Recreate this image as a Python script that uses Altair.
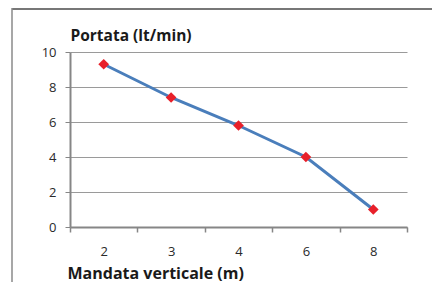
import altair as alt
import pandas as pd

categories = ["2", "3", "4", "6", "8"]
portata = [9.3, 7.4, 5.8, 4.0, 1.0]
y_ticks = [0, 2, 4, 6, 8, 10]

df = pd.DataFrame({"mandata": categories, "portata": portata})

FONT = "Open Sans"
GRAY = "#868686"

x = alt.X(
    "mandata:O",
    sort=categories,
    scale=alt.Scale(type="band", paddingInner=0, paddingOuter=0),
    axis=alt.Axis(
        title="Mandata verticale (m)",
        labelAngle=0,
        tickBand="extent",
        grid=False,
        domainColor=GRAY,
        domainWidth=2,
        tickColor=GRAY,
        tickWidth=1.5,
        tickSize=5,
        labelPadding=13,
        labelFontSize=13,
        labelColor="#2a2a2a",
        labelFont=FONT,
        titleFont=FONT,
        titleFontSize=16,
        titleFontWeight="bold",
        titleColor="#1a1a1a",
        titleAlign="left",
        titleBaseline="alphabetic",
        titleX=-3,
        titleY=51,
    ),
)

y = alt.Y(
    "portata:Q",
    scale=alt.Scale(domain=[0, 10]),
    axis=alt.Axis(
        values=y_ticks,
        title="Portata (lt/min)",
        titleAngle=0,
        titleAlign="left",
        titleBaseline="alphabetic",
        titleX=0,
        titleY=-12,
        titleFont=FONT,
        titleFontSize=15.5,
        titleFontWeight="bold",
        titleColor="#1a1a1a",
        grid=True,
        gridColor="#9a9a9a",
        gridWidth=1,
        domainColor=GRAY,
        domainWidth=2,
        tickColor=GRAY,
        tickSize=5,
        labelPadding=9,
        labelFontSize=13,
        labelColor="#2a2a2a",
        labelFont=FONT,
    ),
)

base = alt.Chart(df)
line = base.mark_line(color="#4a7ebb", strokeWidth=3).encode(x=x, y=y)
points = base.mark_point(shape="diamond", filled=True, color="#e8202a", size=115, opacity=1).encode(x=x, y=y)

frame_data = alt.Chart(pd.DataFrame({"k": [0]}))
top_border = frame_data.mark_rule(color="#777777", strokeWidth=2, clip=False).encode(
    x=alt.value(-58), x2=alt.value(380), y=alt.value(-43)
)
left_border = frame_data.mark_rule(color="#8a8a8a", strokeWidth=1.5, clip=False).encode(
    x=alt.value(-58), y=alt.value(-44), y2=alt.value(240)
)

chart = (
    alt.layer(top_border, left_border, line, points)
    .properties(
        width=337,
        height=175,
        autosize=alt.AutoSizeParams(type="none"),
        padding={"left": 62, "top": 44, "right": 25, "bottom": 55},
        background="white",
    )
    .configure_view(stroke=None)
)

chart.save("out.html", embed_options={"renderer": "svg", "actions": False})
